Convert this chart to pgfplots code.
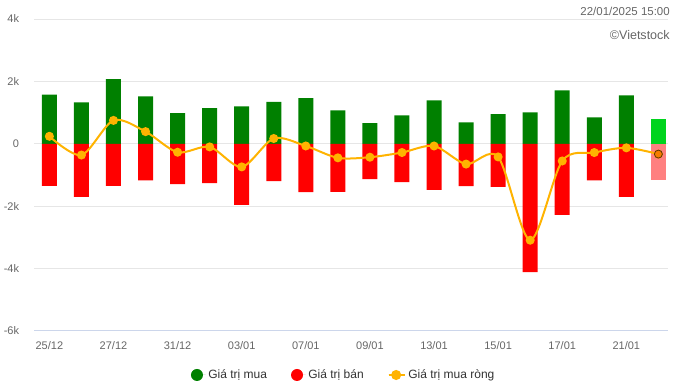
\documentclass[border=0pt]{standalone}
\usepackage{pgfplots}
\pgfplotsset{compat=1.18}
\usepackage{fontspec}
\setmainfont{Liberation Sans}
\definecolor{cgreen}{HTML}{008000}
\definecolor{cred}{HTML}{FF0000}
\definecolor{clgreen}{HTML}{00D41E}
\definecolor{clred}{HTML}{FF8080}
\definecolor{corange}{HTML}{FFB300}
\definecolor{cdorange}{HTML}{F57C00}
\definecolor{cgrid}{HTML}{E6E6E6}
\definecolor{caxis}{HTML}{CCD6EB}
\definecolor{ctext}{HTML}{666666}
\definecolor{clegend}{HTML}{333333}
\begin{document}
\begin{tikzpicture}
\begin{axis}[
  at={(0,0)}, anchor=south west,
  scale only axis,
  width=475.5pt, height=234pt,
  xmin=-0.48, xmax=19.3,
  ymin=-6000, ymax=4000,
  ytick={-6000,-4000,-2000,0,2000,4000},
  yticklabels={-6k,-4k,-2k,0,2k,4k},
  xtick={0,2,4,6,8,10,12,14,16,18},
  xticklabels={25/12,27/12,31/12,03/01,07/01,09/01,13/01,15/01,17/01,21/01},
  ymajorgrids, grid style={cgrid, line width=0.75pt},
  axis x line*=bottom, axis y line*=left,
  x axis line style={caxis, line width=0.75pt, -},
  y axis line style={draw=none},
  major tick length=0pt,
  tick label style={font=\fontsize{8.25}{9}\selectfont, text=ctext, inner sep=0pt},
  yticklabel style={xshift=-11pt},
  xticklabel style={yshift=-8pt},
  bar width=11.25pt,
  legend style={at={(0.489,-0.141)}, anchor=center, draw=none, fill=none,
    font=\fontsize{9}{10}\selectfont, text=clegend,
    /tikz/every even column/.append style={column sep=16pt}},
  legend columns=3,
  clip=false,
]
\addplot[ybar, bar shift=0pt, fill=cgreen, draw=none,
  legend image code/.code={\fill[cgreen] (0,0) circle (4.5pt); \path (-4.5pt,0) -- (6.5pt,0);}]
  coordinates {(0,1580) (1,1330) (2,2070) (3,1520) (4,980) (5,1140) (6,1200) (7,1340) (8,1460) (9,1070)
   (10,660) (11,910) (12,1390) (13,690) (14,950) (15,1010) (16,1710) (17,850) (18,1550)};
\addlegendentry{Giá trị mua}
\addplot[ybar, bar shift=0pt, fill=cred, draw=none,
  legend image code/.code={\fill[cred] (0,0) circle (4.5pt); \path (-4.5pt,0) -- (6.5pt,0);}]
  coordinates {(0,-1350) (1,-1700) (2,-1350) (3,-1170) (4,-1290) (5,-1260) (6,-1960) (7,-1200) (8,-1550) (9,-1540)
   (10,-1130) (11,-1230) (12,-1480) (13,-1360) (14,-1380) (15,-4110) (16,-2280) (17,-1170) (18,-1700)};
\addlegendentry{Giá trị bán}
\addplot[ybar, bar shift=0pt, fill=clgreen, draw=none, forget plot] coordinates {(19,790)};
\addplot[ybar, bar shift=0pt, fill=clred, draw=none, forget plot] coordinates {(19,-1170)};
\addplot[corange, line width=1.5pt, smooth, tension=0.5, mark=*, mark size=2.6pt,
  mark options={fill=corange, draw=corange},
  legend image code/.code={\draw[corange, line width=1.5pt] (0,0) -- (11.25pt,0); \fill[corange] (5.6pt,0) circle (3pt); \path (0,0) -- (12pt,0);}]
  coordinates {(0,240) (1,-360) (2,750) (3,390) (4,-270) (5,-100) (6,-740) (7,170) (8,-70) (9,-450)
   (10,-430) (11,-280) (12,-70) (13,-650) (14,-420) (15,-3090) (16,-550) (17,-280) (18,-130) (19,-330)};
\addlegendentry{Giá trị mua ròng}
\addplot[only marks, mark=*, mark size=3pt, mark options={fill=cdorange, draw=black!60!cdorange, line width=0.6pt}, forget plot]
  coordinates {(19,-330)};
\node[anchor=base east, font=\fontsize{8.6}{10}\selectfont, text=ctext, inner sep=0pt] at ([xshift=1.5pt, yshift=2.6pt]rel axis cs:1,1) {22/01/2025 15:00};
\node[anchor=base east, font=\fontsize{9.4}{11}\selectfont, text=ctext, inner sep=0pt] at ([xshift=1.5pt, yshift=-15pt]rel axis cs:1,1) {©Vietstock};
\end{axis}
\path[use as bounding box] (-25.5pt,-42.75pt) rectangle (484.5pt,248.25pt);
\end{tikzpicture}
\end{document}
